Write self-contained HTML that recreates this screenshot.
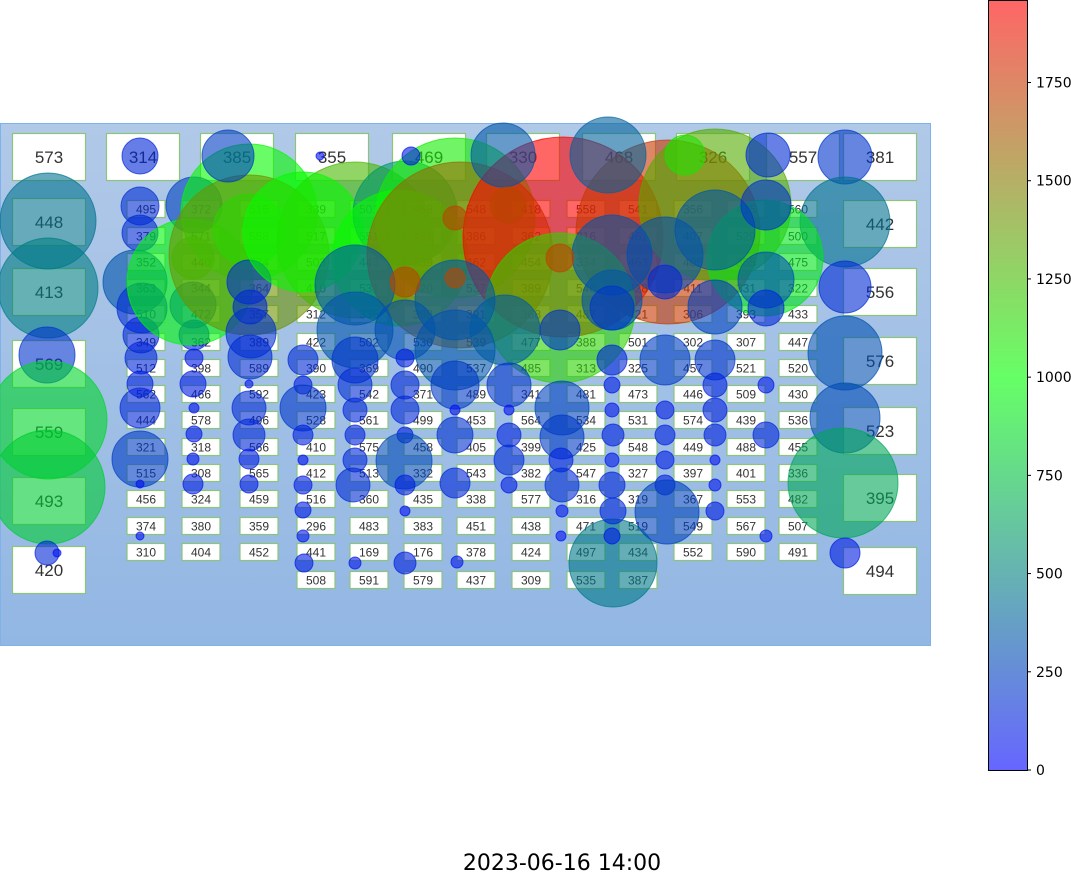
<!DOCTYPE html>
<html><head><meta charset="utf-8">
<style>
html,body{margin:0;padding:0;background:#fff;}
svg{display:block;font-family:"Liberation Sans","DejaVu Sans",sans-serif;}
</style></head>
<body>
<svg id="chart" width="1071" height="875" viewBox="0 0 1071 875" xmlns="http://www.w3.org/2000/svg">
<defs>
<linearGradient id="bg" x1="0" y1="0" x2="0" y2="1">
<stop offset="0" stop-color="#b1c9e8"/><stop offset="1" stop-color="#92b7e3"/>
</linearGradient>
<linearGradient id="cb" x1="0" y1="1" x2="0" y2="0">
<stop offset="0" stop-color="#6666ff"/><stop offset="0.51" stop-color="#66ff66"/><stop offset="1" stop-color="#ff6666"/>
</linearGradient>
</defs>
<rect x="0.5" y="123.5" width="930" height="522" fill="url(#bg)" stroke="#7fb2ea" stroke-width="1"/>
<g id="boxes"></g>
<g id="circles"></g>
<g id="colorbar">
<rect x="988.5" y="0.5" width="39" height="770" fill="url(#cb)" stroke="#000" stroke-width="1"/>
</g>
<text x="562" y="870" font-size="22" text-anchor="middle" fill="#000" font-family="DejaVu Sans, sans-serif">2023-06-16 14:00</text>
</svg>
<script>
const VMAX = 1960;
const leftLabels = [573,448,413,569,559,493,420];
const leftY = [157,222,292,364,432,501,570];
const rightLabels = [381,442,556,576,523,395,494];
const rightY = [157,224,292,361,431,498,571];
const topLabels = [314,385,355,469,330,468,326,557];
const topX = [143,237,332,429,523,619,713,803];
const colX = [146,201,259,316,369,423,476,531,586,638,693,746,798];
const rowY = [209,236,262,288,314,342,368,394,420,447,473,499,526,552,580];
const gridLabels = [
[495,372,516,339,501,458,548,418,558,541,356,415,560],
[379,571,558,517,551,431,386,362,316,461,407,529,500],
[352,440,574,503,443,539,462,454,334,463,405,355,475],
[363,344,364,410,531,320,537,389,546,428,411,331,322],
[510,472,357,312,335,398,391,368,487,421,306,393,433],
[349,362,389,422,502,530,539,477,388,501,302,307,447],
[512,398,589,390,369,490,537,485,313,325,457,521,520],
[562,466,592,423,542,371,489,341,481,473,446,509,430],
[444,578,496,528,561,499,453,564,534,531,574,439,536],
[321,318,566,410,575,458,405,399,425,548,449,488,455],
[515,308,565,412,513,332,543,382,547,327,397,401,336],
[456,324,459,516,360,435,338,577,316,319,367,553,482],
[374,380,359,296,483,383,451,438,471,519,549,567,507],
[310,404,452,441,169,176,378,424,497,434,552,590,491],
[null,null,null,508,591,579,437,309,535,387,null,null,null]
];
const cX = [48,48,47,48,48,47,57, 845,845,845,845,845,843,845,
 140,140,140,135,142,141,141,140,140,140,140,140,
 194,193,193,194,194,193,194,194,193,193,
 249,190,249,228,249,
 249,250,251,250,249,249,249,249,249,
 355,303,405,455,400,460,563,668,715,765,560,
 503,608,685,768,320,411,
 355,355,405,455,455,505,560,612,612,665,715,766,766,766,715,665,612,665,715,
 303,303,303,303,303,303,303,303,304,
 355,355,355,355,355,353,355,
 405,405,405,405,404,405,405,405,
 455,455,455,455,457,
 509,509,509,509,509,
 562,562,561,562,562,561,613,
 612,612,613,612,612,613,612,665,665,665,665,667,
 715,715,715,715,715,715,766,766,766,
 405,455,455,508,560,612];
const cY = [221,288,355,420,487,553,553, 157,222,287,353,418,483,553,
 156,206,233,282,308,335,358,384,408,459,484,536,
 205,258,305,335,358,384,408,434,459,484,
 212,282,255,156,230,
 282,307,333,357,384,408,435,459,484,
 240,232,213,218,258,255,237,232,205,258,308,
 155,155,155,155,156,156,
 285,330,330,300,350,330,330,300,255,255,230,205,280,308,307,282,360,360,360,
 360,385,408,435,460,485,510,536,563,
 360,385,410,435,460,485,563,
 358,385,410,435,461,485,511,563,
 385,410,435,483,562,
 385,410,435,460,485,
 408,437,460,485,511,536,563,
 385,410,435,460,485,511,536,410,435,460,485,512,
 385,410,435,460,485,511,385,435,536,
 282,218,278,205,258,308];
const cR = [48,50,28,59,57,12,4, 27,45,26,37,35,55,15,
 18,19,18,32,25,18,16,13,20,28,4,4,
 28,21,23,15,9,13,5,8,6,10,
 68,63,80,26,36,
 22,17,25,22,4,17,16,10,9,
 78,60,52,80,68,93,100,92,76,58,75,
 32,38,20,22,4,9,
 40,38,30,40,40,35,20,30,40,38,40,25,28,18,27,17,15,25,20,
 15,9,23,10,5,9,8,6,9,
 23,17,12,10,12,17,6,
 9,14,14,8,28,10,5,11,
 24,5,18,15,6,
 22,5,12,15,8,
 27,22,12,17,6,5,44,
 8,7,11,7,13,13,8,9,10,9,10,32,
 12,12,11,5,6,9,8,13,6,
 15,12,10,18,14,22];
const cV = [440,480,200,820,780,150,60, 200,430,170,300,290,640,110,
 150,170,160,320,170,140,140,120,150,230,60,60,
 250,1250,180,130,90,110,60,90,70,100,
 1000,950,1400,230,1150,
 180,150,180,170,60,160,150,110,100,
 1250,1000,580,1050,1000,1550,1960,1750,1300,880,1150,
 330,380,1100,170,60,80,
 330,320,300,330,320,350,200,320,330,300,330,200,300,150,250,170,140,230,200,
 160,110,210,120,60,110,100,80,110,
 200,170,140,120,140,170,80,
 110,150,150,100,280,120,60,120,
 220,60,180,150,80,
 200,60,130,160,100,
 250,220,130,170,80,60,460,
 100,90,120,90,140,140,100,110,120,110,120,250,
 130,130,120,60,80,110,100,140,80,
 1700,1700,1700,1700,1700,200];

const NS='http://www.w3.org/2000/svg';
const boxes=document.getElementById('boxes');
const circles=document.getElementById('circles');
const cbar=document.getElementById('colorbar');

function color(v){
  let t=Math.max(0,Math.min(1,v/VMAX));
  let r,g,b;
  if(t<0.5){let s=t/0.5;r=0;g=s;b=1-s;}else{let s=(t-0.5)/0.5;r=s;g=1-s;b=0;}
  return 'rgb('+Math.round(r*255)+','+Math.round(g*255)+','+Math.round(b*255)+')';
}
function mk(tag,attrs){const e=document.createElementNS(NS,tag);for(const k in attrs)e.setAttribute(k,attrs[k]);return e;}

function addBox(cx,cy,w,h,label,fs,name){
  const g=mk('g',{});
  
  
  const r=mk('rect',{x:cx-w/2,y:cy-h/2,width:w,height:h,fill:'#fff',stroke:'#8cc47a','stroke-width':1.2});
  
  
  const t=mk('text',{x:cx,y:cy+fs*0.36,'font-size':fs,'text-anchor':'middle',fill:'#333'});
  
  
  t.textContent=label;
  g.appendChild(r);g.appendChild(t);boxes.appendChild(g);
}
leftLabels.forEach((l,i)=>addBox(49,leftY[i],73,47,l,17,'left-station-box'));
rightLabels.forEach((l,i)=>addBox(880,rightY[i],73,47,l,17,'right-station-box'));
topLabels.forEach((l,i)=>addBox(topX[i],157,73,47,l,17,'top-station-box'));
gridLabels.forEach((row,ri)=>row.forEach((l,ci)=>{
  if(l===null)return;
  addBox(colX[ci],rowY[ri],38,17,l,12,'grid-station-box');
}));

cX.forEach((x,i)=>{
  const c=color(cV[i]);
  const e=mk('circle',{cx:x,cy:cY[i],r:cR[i],fill:c,'fill-opacity':0.6,stroke:c,'stroke-opacity':0.7,'stroke-width':1});
  
  
  circles.appendChild(e);
});

const cbTicks=[0,250,500,750,1000,1250,1500,1750];
cbTicks.forEach(v=>{
  const y=770-v/VMAX*770;
  const l=mk('line',{x1:1027,x2:1031,y1:y,y2:y,stroke:'#000','stroke-width':1});
  
  
  cbar.appendChild(l);
  const t=mk('text',{x:1036,y:y+5,'font-size':14,fill:'#000','font-family':'DejaVu Sans, sans-serif'});
  
  
  t.textContent=v;
  cbar.appendChild(t);
});
</script>
</body></html>
